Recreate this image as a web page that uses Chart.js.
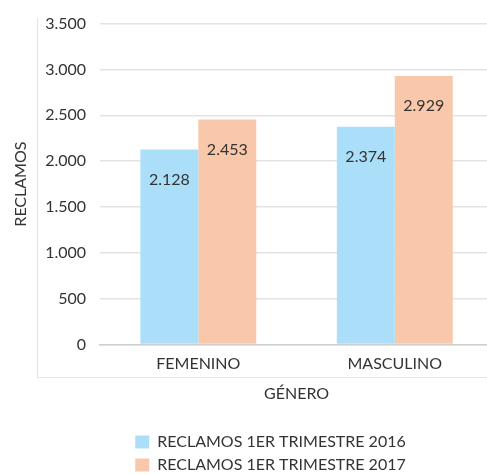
<!DOCTYPE html>
<html>
<head>
<meta charset="utf-8">
<script src="https://cdn.jsdelivr.net/npm/chart.js@4.4.1/dist/chart.umd.min.js"></script>
<style>
  html, body { margin: 0; padding: 0; background: #fff; overflow: hidden; }
  #wrap { width: 493px; height: 485px; }
</style>
</head>
<body>
<div id="wrap"><canvas id="myBarChart"></canvas></div>
<script>
// chart data
const categories = ["FEMENINO", "MASCULINO"];
const seriesNames = ["RECLAMOS 1ER TRIMESTRE 2016", "RECLAMOS 1ER TRIMESTRE 2017"];
const reclamos2016 = [2128, 2374];
const reclamos2017 = [2453, 2929];
const yTicks = [0, 500, 1000, 1500, 2000, 2500, 3000, 3500];

Chart.defaults.font.family = 'Lato, "Open Sans", sans-serif';
Chart.defaults.color = '#333';

const blueColor = "#abdff9";
const peachColor = "#f9c7aa";
const textColor = "#333";

// "2128" -> "2.128"
const fmt = v => String(v).replace(/\B(?=(\d{3})+(?!\d))/g, ".");

// value labels inside the bars, a bit below the top
const barLabels = {
  id: 'barLabels',
  afterDatasetsDraw(chart) {
    const ctx = chart.ctx;
    ctx.save();
    ctx.font = '16px Lato, sans-serif';
    ctx.fillStyle = textColor;
    ctx.textAlign = 'center';
    ctx.textBaseline = 'middle';
    chart.data.datasets.forEach((ds, i) => {
      chart.getDatasetMeta(i).data.forEach((bar, j) => {
        ctx.fillText(fmt(ds.data[j]), bar.x, bar.y + 30);
      });
    });
    ctx.restore();
  }
};

// thin light frame left of the tick labels and under the category labels
const axisFrame = {
  id: 'axisFrame',
  beforeDraw(chart) {
    const ctx = chart.ctx;
    const x = 37.5, top = 18, bottom = 377.5;
    ctx.save();
    ctx.strokeStyle = '#e6e6e6';
    ctx.lineWidth = 1.2;
    ctx.beginPath();
    ctx.moveTo(x, top);
    ctx.lineTo(x, bottom);
    ctx.lineTo(chart.width, bottom);
    ctx.stroke();
    ctx.restore();
  }
};

// legend sits a little right of the page centre
const legendShift = {
  id: 'legendShift',
  afterLayout(chart) {
    if (chart.legend) chart.legend.left += 46;
  }
};

const ctx = document.getElementById("myBarChart").getContext("2d");
const myBarChart = new Chart(ctx, {
  type: 'bar',
  data: {
    labels: categories,
    datasets: [{
      label: seriesNames[0],
      backgroundColor: blueColor,
      data: reclamos2016
    }, {
      label: seriesNames[1],
      backgroundColor: peachColor,
      data: reclamos2017
    }]
  },
  plugins: [barLabels, axisFrame, legendShift],
  options: {
    responsive: true,
    maintainAspectRatio: false,
    animation: false,
    layout: { padding: { top: 19, left: 2, right: 0, bottom: 2 } },
    datasets: {
      bar: { categoryPercentage: 0.59, barPercentage: 1 }
    },
    scales: {
      x: {
        grid: { display: false },
        border: { color: '#cfcfcf', width: 1.5 },
        ticks: { padding: 2, font: { size: 16 }, color: textColor },
        title: { display: true, text: 'GÉNERO', font: { size: 16 }, color: textColor, padding: { top: 8, bottom: 24 } }
      },
      y: {
        min: yTicks[0],
        max: yTicks[yTicks.length - 1],
        afterBuildTicks(scale) { scale.ticks = yTicks.map(v => ({ value: v })); },
        ticks: { padding: 14, font: { size: 16 }, color: textColor, callback: v => fmt(v) },
        grid: { color: '#e3e3e3', lineWidth: 1.5, drawTicks: false },
        border: { display: false },
        title: { display: true, text: 'RECLAMOS', font: { size: 16 }, color: textColor, padding: { top: 9, bottom: 1 } }
      }
    },
    plugins: {
      legend: {
        position: 'bottom',
        labels: { boxWidth: 14, boxHeight: 13, padding: 7, font: { size: 16 }, color: textColor }
      },
      tooltip: { enabled: false }
    }
  }
});
</script>
</body>
</html>
